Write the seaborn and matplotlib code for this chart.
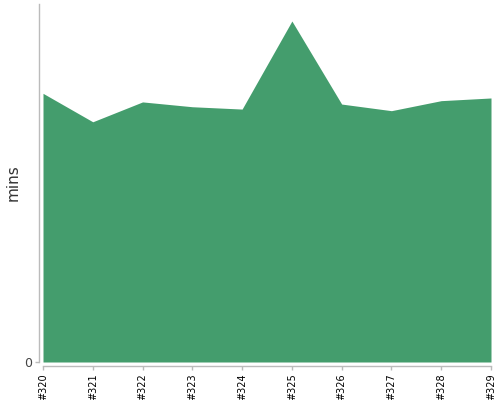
import matplotlib
matplotlib.use("Agg")
import matplotlib.pyplot as plt
import seaborn as sns
import numpy as np

# builds and durations (minutes)
builds = ["#320", "#321", "#322", "#323", "#324", "#325", "#326", "#327", "#328", "#329"]
mins = [15.01, 13.42, 14.53, 14.26, 14.13, 19.05, 14.41, 14.04, 14.60, 14.75]
y_max = 20

sns.set_style("white")
plt.rcParams['font.family'] = ['DejaVu Sans']

fig = plt.figure(figsize=(5, 4), dpi=100)
ax = fig.add_axes([0.086, 0.095, 0.896, 0.895])

x = np.arange(len(builds))
ax.fill_between(x, 0, mins, color="#449d6d", linewidth=0)

# despine first: offsetting spines resets the tick labels
sns.despine(ax=ax, offset=3)
for side in ("left", "bottom"):
    ax.spines[side].set_color("#bbbbbb")
    ax.spines[side].set_linewidth(1)

ax.set_xlim(0, len(builds) - 1)
ax.set_ylim(0, y_max)
ax.set_xticks(x)
ax.set_xticklabels(builds, rotation=90, fontsize=7, color="black")
ax.set_yticks([0])
ax.set_yticklabels(["0"], fontsize=9, color="#444444")
ax.set_ylabel("mins", fontsize=11, color="#333333")
ax.yaxis.set_label_coords(-0.05, 0.5)

ax.tick_params(axis="both", length=3, width=1, color="#bbbbbb", pad=2)
ax.tick_params(axis="y", left=True)
ax.tick_params(axis="x", bottom=True)

fig.savefig("out.png", dpi=100)
